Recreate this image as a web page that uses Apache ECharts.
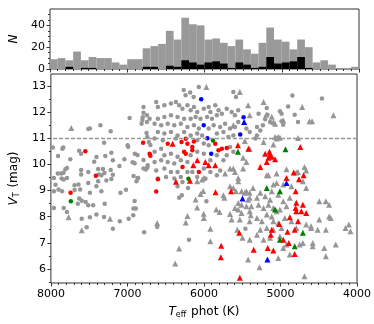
<!DOCTYPE html>
<html>
<head>
<meta charset="utf-8">
<script src="https://cdn.jsdelivr.net/npm/echarts@6/dist/echarts.min.js"></script>
<style>
html, body { margin: 0; padding: 0; background: #fff; }
#chart { width: 374px; height: 324px; }
</style>
</head>
<body>
<div id="chart"></div>
<script>
// histogram bins (100 K wide, 8000 -> 4000)
const binCenters = [7950, 7850, 7750, 7650, 7550, 7450, 7350, 7250, 7150, 7050,
  6950, 6850, 6750, 6650, 6550, 6450, 6350, 6250, 6150, 6050,
  5950, 5850, 5750, 5650, 5550, 5450, 5350, 5250, 5150, 5050,
  4950, 4850, 4750, 4650, 4550, 4450, 4350, 4250, 4150, 4050];
const histAll = [9, 10, 8, 16, 8, 11, 10, 10, 6, 4, 9, 9, 19, 21, 23, 35, 27, 47, 41, 40,
  27, 28, 24, 21, 27, 18, 14, 24, 38, 27, 25, 18, 27, 20, 6, 8, 4, 0, 0, 2];
const histSub = [0, 0, 2, 0, 1, 1, 0, 0, 0, 0, 0, 0, 2, 2, 0, 3, 2, 8, 6, 4,
  6, 7, 5, 1, 6, 4, 1, 2, 11, 5, 6, 7, 11, 1, 0, 0, 0, 0, 0, 0];

const nTicks = [0, 20, 40];
const vtTicks = [6, 7, 8, 9, 10, 11, 12, 13];
const vtMinor = [5.5, 6.5, 7.5, 8.5, 9.5, 10.5, 11.5, 12.5];

// [Teff, VT]
const grayCircles = [
  [7511,11.35],[7490,11.37],[7353,11.5],[7219,11.27],[7305,10.83],[6971,11.78],
  [6790,12.2],[6790,11.98],[6800,11.8],[6745,11.88],[6805,11.7],[6745,11.62],[6815,11.56],[6710,11.75],
  [6750,11.2],[6740,11.05],[6720,10.86],[6700,10.74],[6997,10.73],[6990,10.68],[7974,10.65],[7850,10.6],
  [7838,10.65],[7631,10.52],[7605,10.41],[7906,10.32],[7404,10.28],[7289,10.32],[7210,10.45],[7190,10.16],
  [7040,10.2],[7747,10.2],[7434,10.1],[6903,10.41],[6868,10.36],[6932,10.08],[6906,10.04],[6790,10.17],
  [6760,9.8],[6740,9.87],[6735,9.97],[6790,9.84],[7811,9.81],[7790,9.86],[7910,9.65],[7865,9.65],
  [7835,9.68],[7605,9.79],[7605,9.61],[7511,9.71],[7383,9.82],[7375,9.61],[7320,9.82],[7300,9.67],
  [7340,9.58],[7219,9.79],[7190,9.6],[7104,9.94],[6920,9.56],[6868,9.48],[7961,9.48],[7860,9.46],
  [7940,9.22],[7900,9.04],[7960,8.97],[7855,8.97],[7833,9.42],[7790,9.48],[7691,9.2],[7640,9.23],
  [7618,9.04],[7690,9.02],[7512,9.29],[7490,8.91],[7405,9.16],[7383,9.35],[7340,8.97],[7275,9.38],
  [7210,9.44],[7961,8.33],[7833,8.33],[7790,8.18],[7630,8.69],[7597,8.61],[7648,8.49],[7546,8.56],
  [7512,8.44],[7448,8.44],[7297,8.49],[7597,7.92],[7490,7.98],[7405,8.08],[7305,7.99],[7190,7.54],
  [7533,7.59],[7100,7.82],[7091,8.91],[7019,9.03],[6906,8.6],[6920,8.31],[6890,8.31],[6984,7.92],
  [6924,8.05],[6782,7.4],[6881,9.35],[6860,9.48],
  [6611,7.6],[6195,7.12],[6345,9.16],[6324,8.72],[6289,8.82],[5968,8.59],[6281,9.33],[6208,9.1],[5458,7.54],
  [6624,12.39],[6602,12.2],[6517,12.26],[6431,12.33],[6366,12.39],[6324,12.26],[6281,12.13],[6216,12.26],
  [6174,12.07],[6131,12.2],[6088,12.01],[6002,12.13],[5938,12.2],[5916,12.01],[5852,12.26],[5809,12.07],
  [5766,11.94],[5702,12.13],[5638,12.01],[5595,11.88],[5552,12.07],[5831,11.88],[5895,11.75],[5959,11.81],
  [6045,11.75],[6109,11.81],[6174,11.75],[6259,11.75],[6345,11.81],[6431,11.88],[6517,11.81],[6602,11.75],
  [6645,11.56],[6559,11.5],[6474,11.56],[6388,11.5],[6302,11.56],[6216,11.43],[6131,11.5],[6066,11.37],
  [5938,11.37],[5873,11.5],[5788,11.43],[5724,11.56],[5659,11.37],[5595,11.43],[5552,11.62],[5445,11.37],
  [5402,11.24],[6602,11.24],[6517,11.18],[6431,11.24],[6345,11.11],[6259,11.24],[6174,11.11],[6088,11.18],
  [6024,11.11],[5831,11.18],[5745,11.24],[5681,11.05],[5616,11.11],[6645,10.99],[6538,10.92],[6366,10.99],
  [6088,10.92],[6002,10.8],[5938,10.73],[5659,10.67],[5616,10.48],[6645,10.48],[6559,10.6],[6517,10.35],
  [6431,10.41],[6345,10.29],[6174,10.35],[6088,10.48],[6002,10.41],[5831,10.35],[5702,10.35],[6645,10.09],
  [6559,10.16],[6474,10.09],[6388,10.03],[6302,10.16],[6216,10.09],[5916,10.16],[5745,10.16],[6624,9.77],
  [6517,9.84],[6431,9.71],[6345,9.71],[6216,9.71],[6152,9.71],[6002,9.84],[5916,9.71],[5788,9.77],
  [6602,9.46],[6495,9.52],[6388,9.46],[6302,9.52],[6088,9.52],[5981,9.46],[5831,9.58],
  [6067,12.96],[6264,12.85],[6240,12.65],[6180,12.75],[6135,12.58],[5616,12.77],[5582,12.58],
  [4844,12.64],[4458,12.52],[5179,12.16],[4900,12.22],[5007,12.03],[4986,11.94],[5286,11.94],[4814,11.9],
  [5170,11.9],[5200,11.73],[5136,11.62],[5230,11.5],[5307,11.43],[4986,11.65],[4964,11.52],[4771,11.62],
  [5307,11.11],[5329,10.99],[5264,11.3]
];
const grayTriangles = [
  [7734,11.39],[7768,7.98],[7228,7.92],[7597,7.48],
  [6611,7.76],[6324,6.78],[6376,6.21],[6109,8.66],[6088,8.35],[6011,8.98],[6003,8.11],[6238,7.78],
  [6216,8.02],[5916,7.54],[6088,9.35],[6024,9.42],[6002,9.48],[6045,8.87],[6002,7.95],[5745,8.82],
  [5732,8.72],[5659,9.16],[5582,8.97],[5552,9.35],[5509,8.97],[5445,8.97],[5402,8.91],[5423,8.65],
  [5402,8.72],[5552,8.52],[5509,8.46],[5445,8.4],[5381,8.4],[5839,8.27],[5796,8.18],[5659,8.1],
  [5552,8.27],[5509,8.14],[5389,8.05],[5638,7.89],[5531,7.89],[5402,7.82],[5496,7.19],[5402,7.12],
  [5565,7.5],[5916,7.06],[5423,6.36],[5616,9.1],[5466,8.91],[5359,9.1],[5402,8.21],[5595,8.33],
  [5531,12.77],[5423,12.26],[5402,11.88],[5616,11.5],[5402,10.6],[5445,10.09],[5595,9.71],[5724,9.65],
  [5552,9.48],[5968,12.96],[5488,10.25],[5466,10.9],[5659,9.84],[5616,9.84],[5488,9.84],
  [5221,12.39],[4716,12.2],[4308,11.88],[5187,11.9],[5114,11.82],[5093,11.62],[5071,11.56],[4964,11.69],
  [4621,11.65],[4587,11.65],[5071,11.05],[5029,11.05],[5007,11.02],[5050,10.99],[4771,11.01],[5221,10.86],
  [5093,10.76],[4921,9.81],[5179,9.58],[5157,9.58],[5050,9.65],[4793,9.69],[4771,9.71],[4686,9.9],[4664,9.77],
  [5093,9.23],[5050,9.29],[4964,9.23],[4857,9.16],[4707,9.35],[4664,9.1],[5264,8.91],[5307,8.72],
  [5200,8.78],[5114,8.97],[5136,8.65],[5029,8.84],[4964,8.59],[4878,8.72],[5286,8.46],[5221,8.33],
  [5157,8.46],[5093,8.33],[5007,8.27],[4921,8.4],[5179,8.08],[5114,8.01],[5050,8.21],[4943,7.95],
  [5307,7.95],[5243,7.82],[5029,7.76],[4857,7.82],[5264,7.5],[5179,7.57],[5093,7.5],[4986,7.57],
  [4793,7.57],[4664,7.7],[4600,7.63],[5307,7.31],[5221,7.12],[5136,7.19],[5007,7.25],[4921,6.93],
  [4964,6.8],[5029,6.42],[4878,6.55],[4750,6.93],[4707,6.99],[4578,6.99],[4578,6.87],[4428,6.8],
  [4407,6.48],[4278,6.93],[4514,7.5],[4407,7.5],[4493,7.89],[4364,8.01],[4343,7.95],[4493,8.59],
  [4407,8.59],[4364,8.46],[4107,7.7],[4085,7.44],[4150,7.57],[5273,6.06],[4686,5.72],[4600,7.57],[5093,7.82]
];
const redCircles = [
  [6473,10.79],[6293,10.86],[6238,10.98],[6216,10.79],[6131,10.88],[6152,10.67],[6260,10.48],[6238,10.41],
  [6152,10.54],[5852,10.79],[5810,10.54],[5766,10.6],[5702,10.63],[6280,9.9],[6067,9.71],[6602,9.43],
  [6795,10.83],[6710,10.41],[6700,10.33],[7550,10.5],[7412,9.57],[7743,8.91],[6624,8.96]
];
const redTriangles = [
  [6409,10.79],[5556,10.73],[5419,10.6],[6087,10.16],[5981,10.09],[6139,9.97],[5852,9.97],[5938,9.97],
  [4741,10.67],[5200,10.41],[5144,10.48],[5136,10.37],[5114,10.29],[5157,10.25],[5071,10.2],[5179,10.09],
  [5264,9.9],[4921,9.48],[4827,9.69],[4698,9.58],[4758,9.43],
  [4801,8.97],[4793,8.53],[4801,8.33],[4707,8.46],[4793,8.21],[4728,8.21],[4664,8.14],[4878,7.98],
  [4771,7.82],[4814,7.5],[5016,7.72],[4908,7.42],[5114,7.5],[5127,7.31],[4964,7.12],[4891,6.99],
  [5166,6.8],[5093,6.7],[5350,6.73],[4814,6.57],
  [5848,8.93],[5646,8.97],[5539,7.38],[5775,6.89],[5779,6.45],[5531,5.66],[6366,9.34],[6183,9.37]
];
const blueCircles = [[6036,12.49],[6003,11.5],[5955,11.0],[5905,10.41],[5482,11.8],[5526,11.14]];
const blueTriangles = [[5475,11.62],[5496,8.69],[4921,9.29],[5170,6.36]];
const greenCircles = [[5882,10.91],[6203,9.45],[7739,8.59]];
const greenTriangles = [[5556,10.48],[4934,10.58],[5179,9.1],[5007,8.97],[5071,8.27],[4707,7.38],[5007,7.12],[4814,6.87]];

const font = 'DejaVu Sans';
const axisCol = '#333';
const chart = echarts.init(document.getElementById('chart'));

function pts(name, data, symbol, color, size, extra) {
  return Object.assign({
    name: name,
    type: 'scatter',
    xAxisIndex: 2,
    yAxisIndex: 1,
    symbol: symbol,
    symbolSize: size,
    itemStyle: { color: color, opacity: 1 },
    data: data,
    silent: true
  }, extra || {});
}

const plain = v => String(v);

const option = {
  animation: false,
  backgroundColor: '#fff',
  textStyle: { fontFamily: font },
  grid: [
    { left: 48, top: 9, width: 311, height: 60, show: true, borderColor: axisCol, borderWidth: 1 },
    { left: 48, top: 74, width: 311, height: 209, show: true, borderColor: axisCol, borderWidth: 1 }
  ],
  xAxis: [
    { type: 'category', gridIndex: 0, data: binCenters, show: false, position: 'bottom' },
    {
      type: 'value', gridIndex: 0, position: 'bottom', min: 4000, max: 8000, inverse: true, interval: 1000,
      axisLine: { show: false },
      axisLabel: { show: false },
      axisTick: { show: true, length: 3.5, lineStyle: { color: axisCol } },
      minorTick: { show: true, splitNumber: 10, length: 2, lineStyle: { color: axisCol } },
      splitLine: { show: false }
    },
    {
      type: 'value', gridIndex: 1, position: 'bottom', min: 4000, max: 8000, inverse: true, interval: 1000,
      axisLine: { show: false },
      axisLabel: { color: '#000', fontSize: 11, fontFamily: font, margin: 6, formatter: plain },
      axisTick: { show: true, length: 3.5, lineStyle: { color: axisCol } },
      minorTick: { show: true, splitNumber: 10, length: 2, lineStyle: { color: axisCol } },
      splitLine: { show: false },
      name: '{it|T}{sub|eff} phot (K)',
      nameLocation: 'middle',
      nameGap: 22,
      nameTextStyle: {
        color: '#000', fontSize: 12, fontFamily: font,
        rich: {
          it: { fontStyle: 'italic', fontSize: 12, fontFamily: font, color: '#000' },
          sub: { fontSize: 8, fontFamily: font, color: '#000', verticalAlign: 'bottom', padding: [6, 1, 0, 0] }
        }
      }
    }
  ],
  yAxis: [
    {
      type: 'value', gridIndex: 0, min: 0, max: 55, interval: 20,
      axisLine: { show: false },
      axisLabel: { color: '#000', fontSize: 11, fontFamily: font, margin: 5, customValues: nTicks, formatter: plain },
      axisTick: { show: true, length: 3.5, lineStyle: { color: axisCol }, customValues: nTicks },
      minorTick: { show: true, splitNumber: 4, length: 2, lineStyle: { color: axisCol } },
      splitLine: { show: false },
      name: 'N',
      nameLocation: 'middle',
      nameGap: 30,
      nameTextStyle: { color: '#000', fontSize: 12, fontStyle: 'italic', fontFamily: font }
    },
    {
      type: 'value', gridIndex: 1, min: 5.46, max: 13.46, position: 'left',
      axisLine: { show: false },
      axisLabel: { color: '#000', fontSize: 11, fontFamily: font, margin: 5, customValues: vtTicks, formatter: plain },
      axisTick: { show: true, length: 3.5, lineStyle: { color: axisCol }, customValues: vtTicks },
      splitLine: { show: false },
      name: '{it|V}{sub|T} (mag)',
      nameLocation: 'middle',
      nameGap: 29,
      nameTextStyle: {
        color: '#000', fontSize: 12, fontFamily: font,
        rich: {
          it: { fontStyle: 'italic', fontSize: 12, fontFamily: font, color: '#000' },
          sub: { fontSize: 8, fontFamily: font, color: '#000', verticalAlign: 'bottom', padding: [6, 1, 0, 0] }
        }
      }
    },
    {
      type: 'value', gridIndex: 1, min: 5.46, max: 13.46, position: 'left',
      axisLine: { show: false },
      axisLabel: { show: false },
      axisTick: { show: true, length: 2, lineStyle: { color: axisCol }, customValues: vtMinor },
      splitLine: { show: false }
    }
  ],
  series: [
    {
      name: 'all', type: 'bar', xAxisIndex: 0, yAxisIndex: 0, data: histAll,
      barCategoryGap: '0%', barGap: '-100%', itemStyle: { color: '#999999' }, silent: true
    },
    {
      name: 'sub', type: 'bar', xAxisIndex: 0, yAxisIndex: 0, data: histSub,
      barCategoryGap: '0%', barGap: '-100%', itemStyle: { color: '#000000' }, silent: true
    },
    pts('gray tri', grayTriangles, 'triangle', '#969696', 6, {
      markLine: {
        silent: true, symbol: 'none', label: { show: false },
        lineStyle: { color: '#999999', type: [4, 2], width: 1.3 },
        data: [{ yAxis: 11 }]
      }
    }),
    pts('gray circ', grayCircles, 'circle', '#969696', 4.5),
    pts('green circ', greenCircles, 'circle', '#008000', 4.5),
    pts('green tri', greenTriangles, 'triangle', '#008000', 6),
    pts('blue circ', blueCircles, 'circle', '#0000ff', 4.5),
    pts('blue tri', blueTriangles, 'triangle', '#0000ff', 6),
    pts('red circ', redCircles, 'circle', '#ff0000', 4.5),
    pts('red tri', redTriangles, 'triangle', '#ff0000', 6)
  ]
};

chart.setOption(option);
</script>
</body>
</html>
